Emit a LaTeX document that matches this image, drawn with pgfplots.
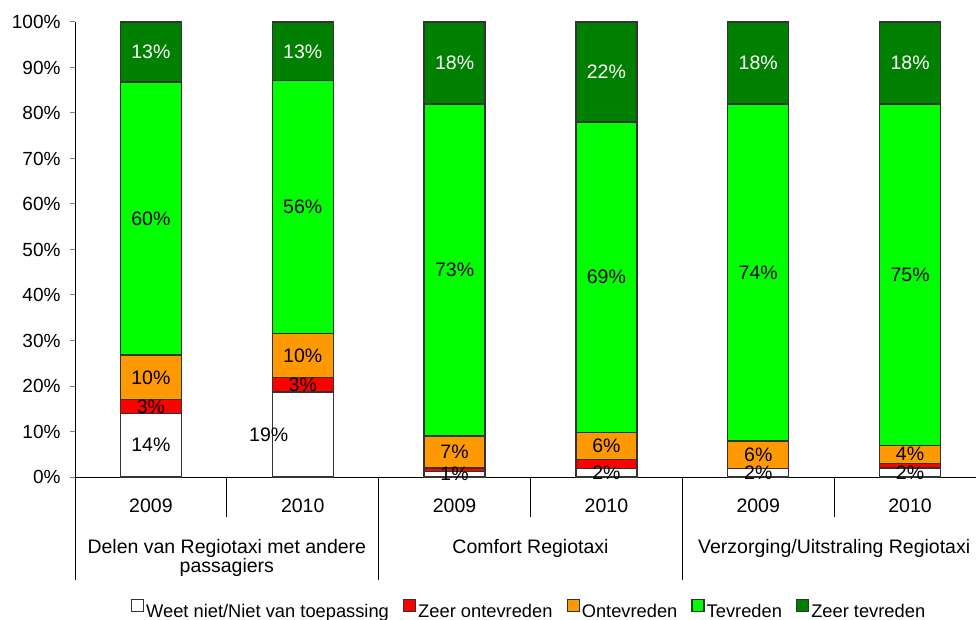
\documentclass[border=0pt]{standalone}
\usepackage{fontspec}
\setmainfont{Liberation Sans}
\usepackage{pgfplots}
\pgfplotsset{compat=1.18}
\definecolor{cRed}{HTML}{FF0000}
\definecolor{cOrange}{HTML}{FF9900}
\definecolor{cGreen}{HTML}{00FF00}
\definecolor{cDark}{HTML}{008000}
\tikzset{
  lab/.style={font=\fontsize{19.5bp}{23bp}\selectfont, inner sep=0pt},
  sep/.style={draw=black, line width=1bp},
}
\pgfplotsset{geom/.style={at={(0,0)}, anchor=south west,
  scale only axis, width=911bp, height=455bp,
  xmin=-0.5, xmax=5.5, ymin=0, ymax=100, clip=false}}
\begin{document}
\begin{tikzpicture}
\useasboundingbox (-75bp,-143bp) rectangle (901bp,477bp);
\begin{axis}[
  geom,
  ybar stacked, bar width=61bp,
  axis lines*=left,
  axis line style={black, line width=1bp},
  xtick={0,1,2,3,4,5},
  xticklabels={2009,2010,2009,2010,2009,2010},
  xticklabel style={anchor=base, yshift=-30bp, font=\fontsize{19.5bp}{23bp}\selectfont},
  xtick style={draw=none},
  ytick={0,10,20,30,40,50,60,70,80,90,100},
  yticklabels={0\%,10\%,20\%,30\%,40\%,50\%,60\%,70\%,80\%,90\%,100\%},
  yticklabel style={font=\fontsize{19bp}{23bp}\selectfont, xshift=-6bp},
  ytick style={draw=gray, line width=1bp},
  tick align=outside,
  major tick length=5bp,
  legend columns=5,
  legend style={draw=none, fill=none, at={(0.4984,-0.2923)}, anchor=center,
    font=\fontsize{18.3bp}{22bp}\selectfont,
    /tikz/every even column/.append style={column sep=12bp}},
  legend image code/.code={\draw[#1] (0bp,0bp) rectangle (12bp,12bp);},
]
\addplot[fill=white, draw=black!80, line width=1.3bp] coordinates {(0,14) (1,18.7) (2,1.2) (3,1.8) (4,1.9) (5,2.0)};
\addplot[fill=cRed, draw=black!80, line width=1.3bp] coordinates {(0,3) (1,3.1) (2,0.8) (3,2.1) (4,0) (5,0.9)};
\addplot[fill=cOrange, draw=black!80, line width=1.3bp] coordinates {(0,9.8) (1,9.8) (2,7) (3,5.9) (4,6) (5,4.1)};
\addplot[fill=cGreen, draw=black!80, line width=1.3bp] coordinates {(0,60) (1,55.5) (2,73) (3,68.2) (4,74.1) (5,75)};
\addplot[fill=cDark, draw=black!80, line width=1.3bp] coordinates {(0,13.2) (1,12.9) (2,18) (3,22) (4,18) (5,18)};
\legend{Weet niet/Niet van toepassing, Zeer ontevreden, Ontevreden, Tevreden, Zeer tevreden}
% separators
\draw[sep] (axis cs:0.5,0) -- ++(0bp,-40bp);
\draw[sep] (axis cs:2.5,0) -- ++(0bp,-40bp);
\draw[sep] (axis cs:4.5,0) -- ++(0bp,-40bp);
\draw[sep] (axis cs:-0.5,0) -- ++(0bp,-103bp);
\draw[sep] (axis cs:1.5,0) -- ++(0bp,-103bp);
\draw[sep] (axis cs:3.5,0) -- ++(0bp,-103bp);
% group labels
\node[lab, anchor=base, yshift=-76bp] at (axis cs:0.5,0) {Delen van Regiotaxi met andere};
\node[lab, anchor=base, yshift=-95bp] at (axis cs:0.5,0) {passagiers};
\node[lab, anchor=base, yshift=-76bp] at (axis cs:2.5,0) {Comfort Regiotaxi};
\node[lab, anchor=base, yshift=-76bp] at (axis cs:4.5,0) {Verzorging/Uitstraling Regiotaxi};
\end{axis}
\begin{axis}[geom, hide axis]
\node[lab] at (axis cs:0,7) {14\%};
\node[lab] at (axis cs:0,15.5) {3\%};
\node[lab] at (axis cs:0,21.9) {10\%};
\node[lab] at (axis cs:0,56.8) {60\%};
\node[lab, text=white] at (axis cs:0,93.4) {13\%};
\node[lab] at (axis cs:0.776,9.35) {19\%};
\node[lab] at (axis cs:1,20.25) {3\%};
\node[lab] at (axis cs:1,26.7) {10\%};
\node[lab] at (axis cs:1,59.35) {56\%};
\node[lab, text=white] at (axis cs:1,93.55) {13\%};
\node[lab] at (axis cs:2,0.6) {1\%};
\node[lab] at (axis cs:2,5.5) {7\%};
\node[lab] at (axis cs:2,45.5) {73\%};
\node[lab, text=white] at (axis cs:2,91) {18\%};
\node[lab] at (axis cs:3,0.9) {2\%};
\node[lab] at (axis cs:3,6.95) {6\%};
\node[lab] at (axis cs:3,43.9) {69\%};
\node[lab, text=white] at (axis cs:3,89) {22\%};
\node[lab] at (axis cs:4,0.95) {2\%};
\node[lab] at (axis cs:4,4.9) {6\%};
\node[lab] at (axis cs:4,44.95) {74\%};
\node[lab, text=white] at (axis cs:4,91) {18\%};
\node[lab] at (axis cs:5,1) {2\%};
\node[lab] at (axis cs:5,5) {4\%};
\node[lab] at (axis cs:5,44.5) {75\%};
\node[lab, text=white] at (axis cs:5,91) {18\%};
\end{axis}
\end{tikzpicture}
\end{document}
